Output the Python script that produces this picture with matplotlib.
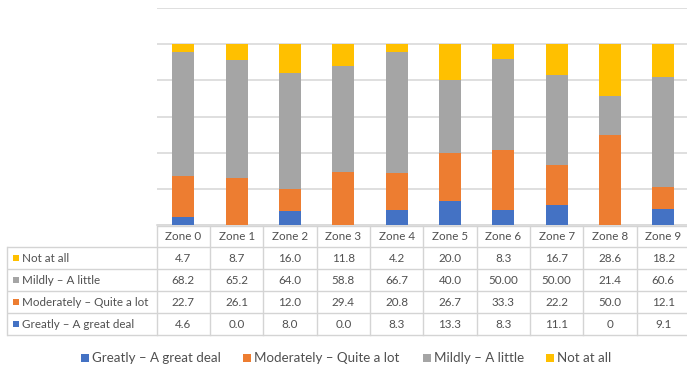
import matplotlib
matplotlib.use("Agg")
import matplotlib.pyplot as plt
from matplotlib.patches import Rectangle
import numpy as np

# ---- data -------------------------------------------------------------
zones = ["Zone 0", "Zone 1", "Zone 2", "Zone 3", "Zone 4",
         "Zone 5", "Zone 6", "Zone 7", "Zone 8", "Zone 9"]
greatly = [4.6, 0.0, 8.0, 0.0, 8.3, 13.3, 8.3, 11.1, 0, 9.1]
moderately = [22.7, 26.1, 12.0, 29.4, 20.8, 26.7, 33.3, 22.2, 50.0, 12.1]
mildly = [68.2, 65.2, 64.0, 58.8, 66.7, 40.0, 50.0, 50.0, 21.4, 60.6]
not_at_all = [4.7, 8.7, 16.0, 11.8, 4.2, 20.0, 8.3, 16.7, 28.6, 18.2]

greatly_txt = ["4.6", "0.0", "8.0", "0.0", "8.3", "13.3", "8.3", "11.1", "0", "9.1"]
moderately_txt = ["22.7", "26.1", "12.0", "29.4", "20.8", "26.7", "33.3", "22.2", "50.0", "12.1"]
mildly_txt = ["68.2", "65.2", "64.0", "58.8", "66.7", "40.0", "50.00", "50.00", "21.4", "60.6"]
not_at_all_txt = ["4.7", "8.7", "16.0", "11.8", "4.2", "20.0", "8.3", "16.7", "28.6", "18.2"]

series_names = ["Greatly – A great deal", "Moderately – Quite a lot",
                "Mildly – A little", "Not at all"]
colors = ["#4472C4", "#ED7D31", "#A5A5A5", "#FFC000"]

# ---- figure -----------------------------------------------------------
W, H = 687, 373
plt.rcParams["font.family"] = ["Lato", "DejaVu Sans"]
fig = plt.figure(figsize=(W / 100, H / 100), dpi=100)

AX_L, AX_R = 156.7, 690.0
AX_T, AX_B = 8.0, 225.5
ax = fig.add_axes([AX_L / W, 1 - AX_B / H, (AX_R - AX_L) / W, (AX_B - AX_T) / H])

grid_c = "#D9D9D9"
text_c = "#505050"

x = np.arange(len(zones))
bottom = np.zeros(len(zones))
for vals, col in zip([greatly, moderately, mildly, not_at_all], colors):
    ax.bar(x, vals, bottom=bottom, width=0.41, color=col, zorder=3)
    bottom += np.array(vals, dtype=float)

ax.set_xlim(-0.5, len(zones) - 0.5)
ax.set_ylim(0, 120)
ax.set_yticks(np.arange(0, 121, 20))
ax.yaxis.grid(True, color=grid_c, linewidth=1.2, zorder=0)
ax.set_xticks([])
ax.tick_params(axis="y", length=0, labelleft=False)
for s in ["top", "right", "left"]:
    ax.spines[s].set_visible(False)
ax.spines["bottom"].set_color(grid_c)
ax.spines["bottom"].set_linewidth(1.2)

# ---- data table -------------------------------------------------------
ov = fig.add_axes([0, 0, 1, 1])
ov.set_xlim(0, W)
ov.set_ylim(H, 0)
ov.axis("off")
ov.patch.set_alpha(0)

line_c = "#D4D4D4"
tab_left = 7.0
row_edges = [225.5, 246.7, 269.0, 291.0, 313.3, 335.0]
col_w = (AX_R - AX_L) / len(zones)
col_edges = [AX_L + i * col_w for i in range(len(zones) + 1)]

# horizontal rules
for i, y in enumerate(row_edges):
    x0 = AX_L if i == 0 else tab_left
    ov.plot([x0, AX_R], [y, y], color=line_c, lw=1.0, solid_capstyle="butt")
# vertical rules
ov.plot([tab_left, tab_left], [row_edges[1], row_edges[-1]], color=line_c, lw=1.0)
for cx in col_edges:
    ov.plot([cx, cx], [row_edges[0], row_edges[-1]], color=line_c, lw=1.0)

fs_tab = 8.4
for j, z in enumerate(zones):
    cx = (col_edges[j] + col_edges[j + 1]) / 2
    ov.text(cx, (row_edges[0] + row_edges[1]) / 2 + 0.5, z, ha="center", va="center",
            fontsize=fs_tab, color=text_c)

rows = [("Not at all", not_at_all_txt, colors[3]),
        ("Mildly – A little", mildly_txt, colors[2]),
        ("Moderately – Quite a lot", moderately_txt, colors[1]),
        ("Greatly – A great deal", greatly_txt, colors[0])]
for r, (name, vals, col) in enumerate(rows):
    yc = (row_edges[r + 1] + row_edges[r + 2]) / 2 + 0.5
    ov.add_patch(Rectangle((13, yc - 3.5), 6, 6, color=col, lw=0))
    ov.text(21.5, yc, name, ha="left", va="center", fontsize=fs_tab, color=text_c)
    for j, v in enumerate(vals):
        cx = (col_edges[j] + col_edges[j + 1]) / 2
        ov.text(cx, yc, v, ha="center", va="center", fontsize=fs_tab, color=text_c)

# ---- legend -----------------------------------------------------------
fs_leg = 9.6
leg_y = 358
leg_x = [81, 243, 423, 546]
for name, col, lx in zip(series_names, colors, leg_x):
    ov.add_patch(Rectangle((lx, leg_y - 4.5), 8, 8, color=col, lw=0))
    ov.text(lx + 11, leg_y, name, ha="left", va="center", fontsize=fs_leg, color=text_c)

fig.savefig("out.png", dpi=100)
